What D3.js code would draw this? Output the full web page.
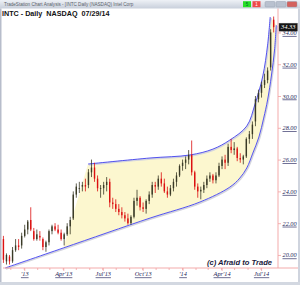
<!DOCTYPE html>
<html>
<head>
<meta charset="utf-8">
<script src="https://cdn.jsdelivr.net/npm/d3@7"></script>
<style>
  html, body { margin: 0; padding: 0; background: #fff; }
  svg { display: block; }
</style>
</head>
<body>
<div id="chart"></div>
<script>
// weekly bars, INTC Nov 2012 - Jul 2014
const firstWeek = '2012-11-12', lastWeek = '2014-07-28';
const opens  = [21.0,19.6,19.9,19.6,20.3,20.6,20.6,21.2,21.6,22.2, 21.5,21.0,21.2,21.0,20.5,20.8,21.5,21.8,21.6,21.4,
                21.0,21.3,21.8,22.3,23.8,24.2,24.3,24.4,24.4,25.2, 25.5,24.8,24.2,24.2,24.4,24.6,23.3,23.2,22.9,22.7,
                22.5,22.3,22.0,22.4,23.4,23.6,23.0,22.9,23.4,23.8, 24.4,24.3,24.8,24.5,24.0,23.8,24.2,24.6,25.0,25.6,
                25.8,26.0,26.3,25.2,24.3,24.0,24.1,24.4,24.8,25.0, 24.7,25.0,25.6,26.0,25.8,26.8,26.6,26.7,26.1,26.0,
                26.2,27.3,27.6,28.4,29.8,30.2,30.7,31.0,31.8,34.8];
const highs  = [21.2,20.1,20.0,20.5,21.0,21.0,21.4,21.9,22.2,23.0, 21.7,21.6,21.5,21.1,20.9,21.6,21.9,22.0,21.9,21.6,
                21.4,22.0,22.4,24.0,24.5,24.6,24.6,24.8,25.4,26.0, 25.8,25.0,24.4,24.6,24.9,24.8,23.6,23.5,23.2,23.0,
                22.7,22.6,22.5,23.6,24.1,23.7,23.3,23.5,24.0,24.6, 24.6,25.0,25.2,24.8,24.3,24.4,24.8,25.2,25.7,26.0,
                26.2,26.6,27.2,25.3,24.5,24.3,24.6,25.0,25.2,25.1, 25.2,25.8,26.2,26.3,27.0,27.3,27.1,26.8,26.4,26.3,
                27.4,27.8,28.4,30.0,30.4,30.9,31.4,31.8,34.2,35.0];
const lows   = [19.5,19.4,19.4,19.5,20.2,20.3,20.4,21.1,21.3,21.5, 20.9,20.9,20.9,20.3,20.2,20.6,21.3,21.5,21.3,20.9,
                20.6,21.2,21.3,22.2,23.6,23.9,24.0,24.0,24.2,24.9, 24.6,24.0,23.6,23.8,24.0,23.0,22.9,22.7,22.5,22.3,
                22.1,21.9,21.9,22.3,23.1,22.8,22.7,22.6,23.2,23.6, 23.9,24.1,24.3,23.9,23.6,23.7,24.0,24.3,24.9,25.3,
                25.4,25.7,25.0,24.1,23.6,23.5,23.9,24.2,24.6,24.5, 24.5,24.9,25.4,25.4,25.6,26.4,26.3,25.9,25.8,25.7,
                26.1,27.0,27.3,28.1,29.6,29.9,30.5,30.8,31.6,34.0];
const closes = [19.7,20.0,19.6,20.3,20.6,20.5,21.2,21.6,22.1,21.6, 21.0,21.3,21.1,20.5,20.8,21.5,21.8,21.6,21.4,21.0,
                21.3,21.8,22.2,23.8,24.3,24.2,24.4,24.3,25.2,25.5, 24.8,24.2,24.2,24.4,24.6,23.3,23.2,22.9,22.7,22.5,
                22.3,22.0,22.4,23.4,23.6,23.0,22.9,23.4,23.8,24.4, 24.3,24.8,24.5,24.0,23.8,24.2,24.6,25.0,25.6,25.8,
                26.0,26.3,25.2,24.3,24.0,24.1,24.4,24.8,25.0,24.7, 25.0,25.6,26.0,25.8,26.8,26.6,26.7,26.1,26.0,26.2,
                27.3,27.6,28.2,29.8,30.2,30.7,31.0,31.6,34.0,34.33];

// hand-drawn channel (analyst annotation)
const upperDates  = ['2013-05-28','2013-10-18','2014-01-18','2014-03-12','2014-04-20','2014-05-29','2014-06-17','2014-07-05','2014-07-16','2014-07-22'];
const upperPrices = [25.72, 26.10, 26.29, 26.66, 27.23, 28.11, 29.49, 31.26, 33.20, 34.97];
const lowerDates  = ['2012-11-18','2013-04-01','2013-10-18','2014-02-10','2014-04-20','2014-05-13','2014-05-29','2014-06-12','2014-06-26','2014-07-07','2014-07-16','2014-07-25','2014-08-01','2014-08-05'];
const lowerPrices = [19.18, 20.44, 22.32, 23.33, 24.27, 24.84, 25.47, 26.41, 27.42, 28.61, 29.75, 31.32, 32.89, 34.46];

const xTickDates  = ['2013-01-01','2013-04-01','2013-07-01','2013-10-01','2014-01-01','2014-04-01','2014-07-01'];
const xTickLabels = ["'13", "Apr'13", "Jul'13", "Oct'13", "'14", "Apr'14", "Jul'14"];
const yTickValues = [20, 22, 24, 26, 28, 30, 32, 34];
const lastClose = 34.33;

const W = 300, H = 285;
const plot = { left: 3, right: 278, top: 10, bottom: 268 };
const parse = d3.timeParse('%Y-%m-%d');

const svg = d3.select('#chart').append('svg').attr('width', W).attr('height', H);

const x = d3.scaleTime().domain([parse('2012-11-13'), parse('2014-08-09')]).range([plot.left, plot.right]);
const y = d3.scaleLinear().domain([19.18, 35.41]).range([plot.bottom, plot.top]);

// window chrome
const grad = svg.append('defs').append('linearGradient').attr('id', 'tb')
  .attr('x1', 0).attr('y1', 0).attr('x2', 0).attr('y2', 1);
grad.append('stop').attr('offset', '0%').attr('stop-color', '#eef1f6');
grad.append('stop').attr('offset', '100%').attr('stop-color', '#c8cfdb');
svg.append('rect').attr('x', 0).attr('y', 0).attr('width', W).attr('height', 8.5).attr('fill', 'url(#tb)');
svg.append('text').attr('x', 4).attr('y', 6).attr('font-family', 'Liberation Sans, Arial, sans-serif')
  .attr('font-size', 4.6).attr('fill', '#5a5f6a').text('TradeStation Chart Analysis - [INTC Daily (NASDAQ) Intel Corp');
svg.append('rect').attr('x', 243).attr('y', 1.2).attr('width', 8).attr('height', 6).attr('fill', '#27e027');
svg.append('text').attr('x', 247).attr('y', 6).attr('text-anchor', 'middle').attr('font-size', 4.5)
  .attr('font-family', 'Liberation Sans, Arial, sans-serif').attr('fill', '#063').text('5');
svg.append('rect').attr('x', 252.5).attr('y', 1.2).attr('width', 8).attr('height', 6).attr('fill', '#ee4a4a');
svg.append('text').attr('x', 256.5).attr('y', 6).attr('text-anchor', 'middle').attr('font-size', 4.5)
  .attr('font-family', 'Liberation Sans, Arial, sans-serif').attr('fill', '#fff').text('1');
[[265, '#b9c1cf'], [276, '#b9c1cf'], [287, '#d4625e']].forEach(([bx, c]) => {
  svg.append('rect').attr('x', bx).attr('y', 1.5).attr('width', 10).attr('height', 5.5).attr('rx', 1)
    .attr('fill', c).attr('stroke', '#8e97a8').attr('stroke-width', 0.4);
});
svg.append('rect').attr('x', 0).attr('y', 8.5).attr('width', 1.5).attr('height', H - 8.5).attr('fill', '#b7bdcb');
svg.append('rect').attr('x', 298).attr('y', 8.5).attr('width', 2).attr('height', H - 8.5).attr('fill', '#cfd4de');
svg.append('rect').attr('x', 0).attr('y', 282).attr('width', W).attr('height', 3).attr('fill', '#d3d8e1');

// chart heading
svg.append('text').attr('x', 2).attr('y', 16.2).style('white-space', 'pre')
  .attr('font-family', 'Liberation Sans, Arial, sans-serif').attr('font-size', 7.2).attr('font-weight', 'bold')
  .attr('fill', '#111').text('INTC - Daily  NASDAQ  07/29/14');

// channel fill + lines
const up = upperDates.map((d, i) => [parse(d), upperPrices[i]]);
const lo = lowerDates.map((d, i) => [parse(d), lowerPrices[i]]);
const lineGen = d3.line().x((d) => x(d[0])).y((d) => y(d[1])).curve(d3.curveCatmullRom.alpha(0.5));

const loSub = lo.slice(1);
const fillPath = lineGen([loSub[0], up[0]]) +
  lineGen(up).replace(/^M/, 'L') +
  lineGen(loSub.slice().reverse()).replace(/^M/, 'L') + 'Z';
svg.append('path').attr('d', fillPath).attr('fill', '#fcf7cf');

[up, lo].forEach((pts) => {
  svg.append('path').attr('d', lineGen(pts)).attr('fill', 'none')
    .attr('stroke', '#d3d4de').attr('stroke-width', 1.6).attr('transform', 'translate(0.8,0.9)');
  svg.append('path').attr('d', lineGen(pts)).attr('fill', 'none')
    .attr('stroke', '#3f3ff0').attr('stroke-width', 0.9);
});

// bars
const weeks = d3.timeMonday.range(parse(firstWeek), d3.timeDay.offset(parse(lastWeek), 1));
const bars = weeks.map((d, i) => ({ d, o: opens[i], h: highs[i], l: lows[i], c: closes[i] }));
const gBars = svg.append('g');
bars.forEach((b) => {
  const cx = x(d3.timeDay.offset(b.d, 2));
  const col = b.c < b.o ? '#dc1010' : '#3a3a26';
  gBars.append('line').attr('x1', cx).attr('x2', cx).attr('y1', y(b.h)).attr('y2', y(b.l))
    .attr('stroke', col).attr('stroke-width', 0.8);
  const top = Math.min(y(b.o), y(b.c));
  gBars.append('rect').attr('x', cx - 0.7).attr('width', 1.4).attr('y', top)
    .attr('height', Math.max(0.8, Math.abs(y(b.o) - y(b.c)))).attr('fill', col);
});

// x axis
const xAxis = d3.axisBottom(x).tickValues(xTickDates.map(parse))
  .tickFormat((d, i) => xTickLabels[i]).tickSize(3).tickPadding(1);
const gx = svg.append('g').attr('transform', `translate(0,${plot.bottom})`).call(xAxis);
gx.select('.domain').remove();
gx.append('g').selectAll('line').data(d3.timeMonth.range(parse('2012-12-01'), parse('2014-08-01')))
  .join('line').attr('x1', (d) => x(d)).attr('x2', (d) => x(d)).attr('y1', 0).attr('y2', 2)
  .attr('stroke', '#f2a2a2').attr('stroke-width', 0.8);
svg.append('line').attr('x1', plot.left).attr('x2', 298).attr('y1', plot.bottom).attr('y2', plot.bottom)
  .attr('stroke', '#f2a2a2').attr('stroke-width', 0.9);

// y axis (right)
const yAxis = d3.axisRight(y).tickValues(yTickValues).tickFormat(d3.format('.2f')).tickSize(3).tickPadding(1.5);
const gy = svg.append('g').attr('transform', `translate(${plot.right},0)`).call(yAxis);
gy.select('.domain').remove();
svg.append('line').attr('x1', plot.right).attr('x2', plot.right).attr('y1', 8.5).attr('y2', plot.bottom)
  .attr('stroke', '#f2a2a2').attr('stroke-width', 0.9);

[gx, gy].forEach((g) => {
  g.selectAll('.tick line').attr('stroke', '#f2a2a2').attr('stroke-width', 0.8);
  g.selectAll('.tick text').attr('fill', '#1e1e58').attr('font-size', 6.3)
    .attr('font-family', 'Liberation Serif, Times New Roman, serif').attr('font-style', 'italic')
    .style('text-decoration', 'underline');
});

// last price marker
svg.append('rect').attr('x', 279).attr('y', y(lastClose) - 4).attr('width', 18.5).attr('height', 8)
  .attr('fill', '#151515').attr('stroke', '#666').attr('stroke-width', 0.4);
svg.append('text').attr('x', 288.2).attr('y', y(lastClose) + 2.2).attr('text-anchor', 'middle')
  .attr('font-family', 'Liberation Serif, Times New Roman, serif').attr('font-style', 'italic')
  .attr('font-size', 6.5).attr('fill', '#fff').text(lastClose.toFixed(2));

// watermark
svg.append('text').attr('x', 272).attr('y', 265).attr('text-anchor', 'end')
  .attr('font-family', 'Liberation Sans, Arial, sans-serif').attr('font-size', 7.6)
  .attr('font-weight', 'bold').attr('font-style', 'italic').attr('fill', '#1b1b3c')
  .text('(c) Afraid to Trade');
</script>
</body>
</html>
